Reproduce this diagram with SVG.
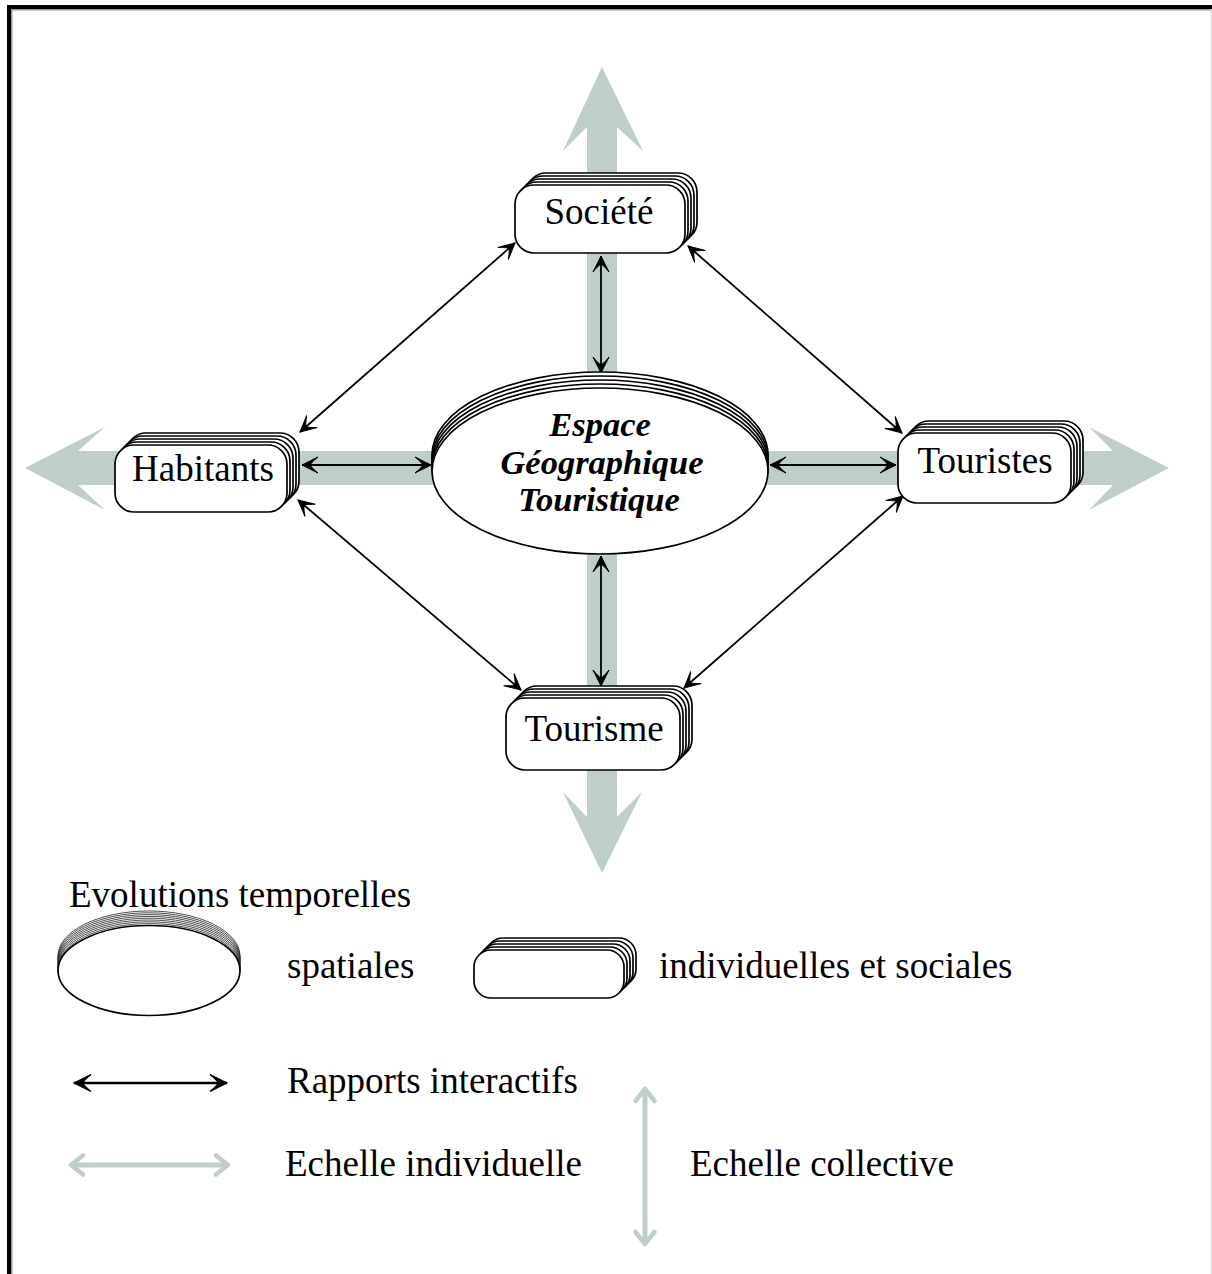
<svg xmlns="http://www.w3.org/2000/svg" width="1212" height="1274" viewBox="0 0 1212 1274">
<style>
.lay{fill:#fff;stroke:#000;stroke-width:1.7}
.thin{fill:#fff;stroke:#000;stroke-width:0.7}
.lbl{font-family:"Liberation Serif","Times New Roman",serif;font-size:37px;fill:#000}
.big{font-family:"Liberation Serif","Times New Roman",serif;font-size:34.5px;font-weight:bold;font-style:italic;fill:#000}
.con{stroke:#000;stroke-width:1.8;fill:none;marker-start:url(#ah);marker-end:url(#ah)}
.gray{fill:#bfcecb}
</style>
<defs>
<marker id="ah" viewBox="0 0 18 18" refX="16.5" refY="9" markerWidth="18" markerHeight="18" markerUnits="userSpaceOnUse" orient="auto-start-reverse">
<path d="M16.5,9 L0.5,1 Q8,7 8,9 Q8,11 0.5,17 Z" fill="#000" stroke="#000" stroke-width="1"/>
</marker>
<marker id="ahb" viewBox="0 0 20 20" refX="18" refY="10" markerWidth="20" markerHeight="20" markerUnits="userSpaceOnUse" orient="auto-start-reverse">
<path d="M18,10 L1,1.5 Q9,8 9,10 Q9,12 1,18.5 Z" fill="#000" stroke="#000" stroke-width="1.2"/>
</marker>
<marker id="ahg" viewBox="0 0 24 24" refX="21" refY="12" markerWidth="24" markerHeight="24" markerUnits="userSpaceOnUse" orient="auto-start-reverse">
<path d="M9,2.5 L21,12 L9,21.5" fill="none" stroke="#bfcecb" stroke-width="4.5" stroke-linecap="round" stroke-linejoin="round"/>
</marker>
</defs>
<rect x="0" y="0" width="1212" height="1274" fill="#fff"/>
<g id="frame">
<rect x="7" y="5" width="1205" height="4" fill="#000"/>
<rect x="7" y="5" width="4" height="1269" fill="#000"/>
<rect x="11" y="9" width="1201" height="1.5" fill="#999"/>
<rect x="11" y="9" width="1.5" height="1265" fill="#999"/>
<rect x="1210.5" y="9" width="1.5" height="1265" fill="#ddd"/>
</g>
<g id="scale-arrows">
<polygon class="gray" points="602,67 643,151 617,127 617,817 642,792 602,873 563,792 587,817 587,127 563,151"/>
<polygon class="gray" points="25,468 105,427 78,451 1113,451 1089,427 1169,468 1089,510 1113,485 78,485 105,510"/>
</g>
<g id="connectors">
<line class="con" x1="601" y1="256" x2="601" y2="373"/>
<line class="con" x1="601" y1="556" x2="601" y2="686"/>
<line class="con" x1="302" y1="465" x2="431" y2="465"/>
<line class="con" x1="770" y1="465" x2="896" y2="465"/>
<line class="con" x1="515" y1="243" x2="300" y2="432"/>
<line class="con" x1="688" y1="246" x2="902" y2="433"/>
<line class="con" x1="298" y1="500" x2="521" y2="690"/>
<line class="con" x1="903" y1="496" x2="684" y2="688"/>
</g>
<g id="espace">
<ellipse class="lay" cx="600" cy="455" rx="168" ry="83"/>
<ellipse class="lay" cx="600" cy="459" rx="168" ry="83"/>
<ellipse class="lay" cx="600" cy="463" rx="168" ry="83"/>
<ellipse class="lay" cx="600" cy="467" rx="168" ry="83"/>
<ellipse class="lay" cx="600" cy="471" rx="168" ry="83"/>
<text class="big" x="600" y="436" text-anchor="middle">Espace</text>
<text class="big" x="602" y="474" text-anchor="middle">Géographique</text>
<text class="big" x="599" y="511" text-anchor="middle">Touristique</text>
</g>
<g id="societe">
<rect class="lay" x="527" y="173" width="170" height="68" rx="19"/>
<rect class="lay" x="524" y="176" width="170" height="68" rx="19"/>
<rect class="lay" x="521" y="179" width="170" height="68" rx="19"/>
<rect class="lay" x="518" y="182" width="170" height="68" rx="19"/>
<rect class="lay" x="515" y="185" width="170" height="68" rx="19"/>
<text class="lbl" x="599" y="224" text-anchor="middle">Société</text>
</g>
<g id="habitants">
<rect class="lay" x="127" y="433" width="172" height="67" rx="19"/>
<rect class="lay" x="124" y="436" width="172" height="67" rx="19"/>
<rect class="lay" x="121" y="439" width="172" height="67" rx="19"/>
<rect class="lay" x="118" y="442" width="172" height="67" rx="19"/>
<rect class="lay" x="115" y="445" width="172" height="67" rx="19"/>
<text class="lbl" x="203" y="481" text-anchor="middle">Habitants</text>
</g>
<g id="touristes">
<rect class="lay" x="910" y="421" width="173" height="70" rx="19"/>
<rect class="lay" x="907" y="424" width="173" height="70" rx="19"/>
<rect class="lay" x="904" y="427" width="173" height="70" rx="19"/>
<rect class="lay" x="901" y="430" width="173" height="70" rx="19"/>
<rect class="lay" x="898" y="433" width="173" height="70" rx="19"/>
<text class="lbl" x="985" y="473" text-anchor="middle">Touristes</text>
</g>
<g id="tourisme">
<rect class="lay" x="518" y="686" width="174" height="72" rx="19"/>
<rect class="lay" x="515" y="689" width="174" height="72" rx="19"/>
<rect class="lay" x="512" y="692" width="174" height="72" rx="19"/>
<rect class="lay" x="509" y="695" width="174" height="72" rx="19"/>
<rect class="lay" x="506" y="698" width="174" height="72" rx="19"/>
<text class="lbl" x="594" y="741" text-anchor="middle">Tourisme</text>
</g>
<g id="legend">
<text class="lbl" x="69" y="907">Evolutions temporelles</text>
<g id="legend-ellipse">
<ellipse class="thin" cx="149" cy="956" rx="91" ry="45"/>
<ellipse class="thin" cx="149" cy="957.8" rx="91" ry="45"/>
<ellipse class="thin" cx="149" cy="959.6" rx="91" ry="45"/>
<ellipse class="thin" cx="149" cy="961.4" rx="91" ry="45"/>
<ellipse class="thin" cx="149" cy="963.2" rx="91" ry="45"/>
<ellipse class="thin" cx="149" cy="965" rx="91" ry="45"/>
<ellipse class="thin" cx="149" cy="966.8" rx="91" ry="45"/>
<ellipse class="thin" cx="149" cy="968.6" rx="91" ry="45"/>
<ellipse class="lay" cx="149" cy="970.5" rx="91" ry="45" stroke-width="1.1"/>
</g>
<text class="lbl" x="287" y="978">spatiales</text>
<g id="legend-box">
<rect class="lay" x="486" y="938" width="150" height="48" rx="17"/>
<rect class="lay" x="483" y="941" width="150" height="48" rx="17"/>
<rect class="lay" x="480" y="944" width="150" height="48" rx="17"/>
<rect class="lay" x="477" y="947" width="150" height="48" rx="17"/>
<rect class="lay" x="474" y="950" width="150" height="48" rx="17"/>
</g>
<text class="lbl" x="659" y="978">individuelles et sociales</text>
<line x1="74" y1="1083" x2="227" y2="1083" stroke="#000" stroke-width="2.4" marker-start="url(#ahb)" marker-end="url(#ahb)"/>
<text class="lbl" x="287" y="1093">Rapports interactifs</text>
<line x1="71" y1="1165" x2="228" y2="1165" stroke="#bfcecb" stroke-width="5" marker-start="url(#ahg)" marker-end="url(#ahg)"/>
<text class="lbl" x="285" y="1176">Echelle individuelle</text>
<line x1="645" y1="1089" x2="645" y2="1244" stroke="#bfcecb" stroke-width="5" marker-start="url(#ahg)" marker-end="url(#ahg)"/>
<text class="lbl" x="690" y="1176">Echelle collective</text>
</g>
</svg>
